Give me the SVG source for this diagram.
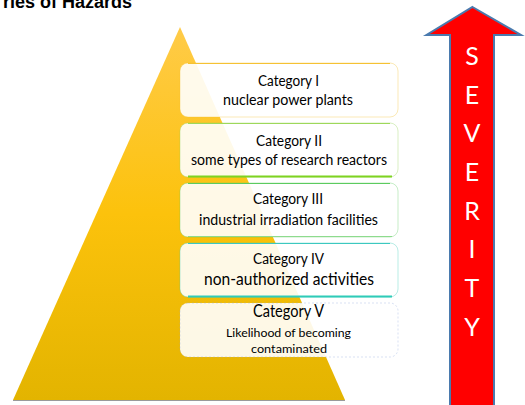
<svg xmlns="http://www.w3.org/2000/svg" width="525" height="405" viewBox="0 0 525 405">
  <defs>
    <linearGradient id="pyramidFill" x1="0" y1="0" x2="0" y2="1">
      <stop offset="0" stop-color="#FFCB48"/>
      <stop offset="0.5" stop-color="#FCC20C"/>
      <stop offset="1" stop-color="#E3B400"/>
    </linearGradient>
  </defs>
  <style>
    .title { font-family: "Liberation Sans", Arial, sans-serif; font-weight: bold; font-size: 18px; fill: #000; }
    .box { fill: #FFFFFF; fill-opacity: 0.9; stroke-width: 1; stroke-opacity: 0.35; }
    .label { font-family: Lato, "Open Sans", sans-serif; fill: #000; text-anchor: middle; }
    .cat { font-size: 14.5px; }
    .desc { font-size: 14.5px; }
    .sev { font-family: Lato, "Open Sans", sans-serif; font-size: 25px; fill: #FFFFFF; text-anchor: middle; }
  </style>

  <!-- heading -->
  <text class="title" x="3" y="7.5">ries of Hazards</text>

  <!-- pyramid backdrop -->
  <g id="pyramid">
    <polygon points="180,27 345,400 13,400" fill="url(#pyramidFill)"/>
    <line x1="13" y1="400.5" x2="345" y2="400.5" stroke="#9A9A9A" stroke-width="1"/>
  </g>

  <!-- category boxes -->
  <g id="cat1">
    <rect class="box" x="180" y="63" width="218" height="54" rx="8" stroke="#F2C12E"/>
    <line x1="188" y1="63.5" x2="390" y2="63.5" stroke="#F5C233" stroke-width="1.2"/>
    <text class="label cat" x="288.5" y="86" textLength="61" lengthAdjust="spacingAndGlyphs">Category I</text>
    <text class="label desc" x="288" y="105" textLength="130" lengthAdjust="spacingAndGlyphs">nuclear power plants</text>
  </g>

  <g id="cat2">
    <rect class="box" x="180" y="123" width="218" height="54" rx="8" stroke="#92D050"/>
    <line x1="188" y1="123.5" x2="390" y2="123.5" stroke="#9ED85A" stroke-width="1.2"/>
    <line x1="188" y1="176.5" x2="392" y2="176.5" stroke="#7ED321" stroke-width="2"/>
    <text class="label cat" x="289" y="146" textLength="66" lengthAdjust="spacingAndGlyphs">Category II</text>
    <text class="label desc" x="289" y="165" textLength="196" lengthAdjust="spacingAndGlyphs">some types of research reactors</text>
  </g>

  <g id="cat3">
    <rect class="box" x="180" y="183" width="218" height="54" rx="8" stroke="#5CCB5F"/>
    <line x1="188" y1="183.5" x2="390" y2="183.5" stroke="#5CCB5F" stroke-width="1.2"/>
    <line x1="188" y1="236.5" x2="392" y2="236.5" stroke="#8EDB8E" stroke-width="1"/>
    <text class="label cat" x="288" y="204" textLength="70" lengthAdjust="spacingAndGlyphs">Category III</text>
    <text class="label desc" x="288.5" y="225" textLength="179" lengthAdjust="spacingAndGlyphs">industrial irradiation facilities</text>
  </g>

  <g id="cat4">
    <rect class="box" x="180" y="243" width="218" height="54" rx="8" stroke="#33C9B5"/>
    <line x1="188" y1="243.5" x2="390" y2="243.5" stroke="#3CC8C0" stroke-width="1.2"/>
    <line x1="188" y1="296.5" x2="392" y2="296.5" stroke="#2FCBB8" stroke-width="2"/>
    <text class="label cat" x="288.5" y="264" font-size="15.5" textLength="71" lengthAdjust="spacingAndGlyphs">Category IV</text>
    <text class="label" x="289" y="285" font-size="16.5" textLength="170" lengthAdjust="spacingAndGlyphs">non-authorized activities</text>
  </g>

  <g id="cat5">
    <rect class="box" x="180" y="303" width="218" height="54" rx="8" stroke="#8FAADC" stroke-dasharray="2 2"/>
    <text class="label" x="288.5" y="317" font-size="16.5" textLength="71" lengthAdjust="spacingAndGlyphs">Category V</text>
    <text class="label" x="288.5" y="337" font-size="12" textLength="125" lengthAdjust="spacingAndGlyphs">Likelihood of becoming</text>
    <text class="label" x="289" y="353" font-size="12" textLength="76" lengthAdjust="spacingAndGlyphs">contaminated</text>
  </g>

  <!-- severity arrow -->
  <g id="severity">
    <polygon points="472.5,7 521,35 494,35 494,412 450,412 450,35 426.5,35" fill="#FF0000" stroke="#4A7AAE" stroke-width="2" stroke-linejoin="miter"/>
    <text class="sev" x="472" y="65">S</text>
    <text class="sev" x="472" y="103.5">E</text>
    <text class="sev" x="472" y="142">V</text>
    <text class="sev" x="472" y="181">E</text>
    <text class="sev" x="472" y="219.5">R</text>
    <text class="sev" x="472" y="258">I</text>
    <text class="sev" x="472" y="297">T</text>
    <text class="sev" x="472" y="336">Y</text>
  </g>
</svg>
